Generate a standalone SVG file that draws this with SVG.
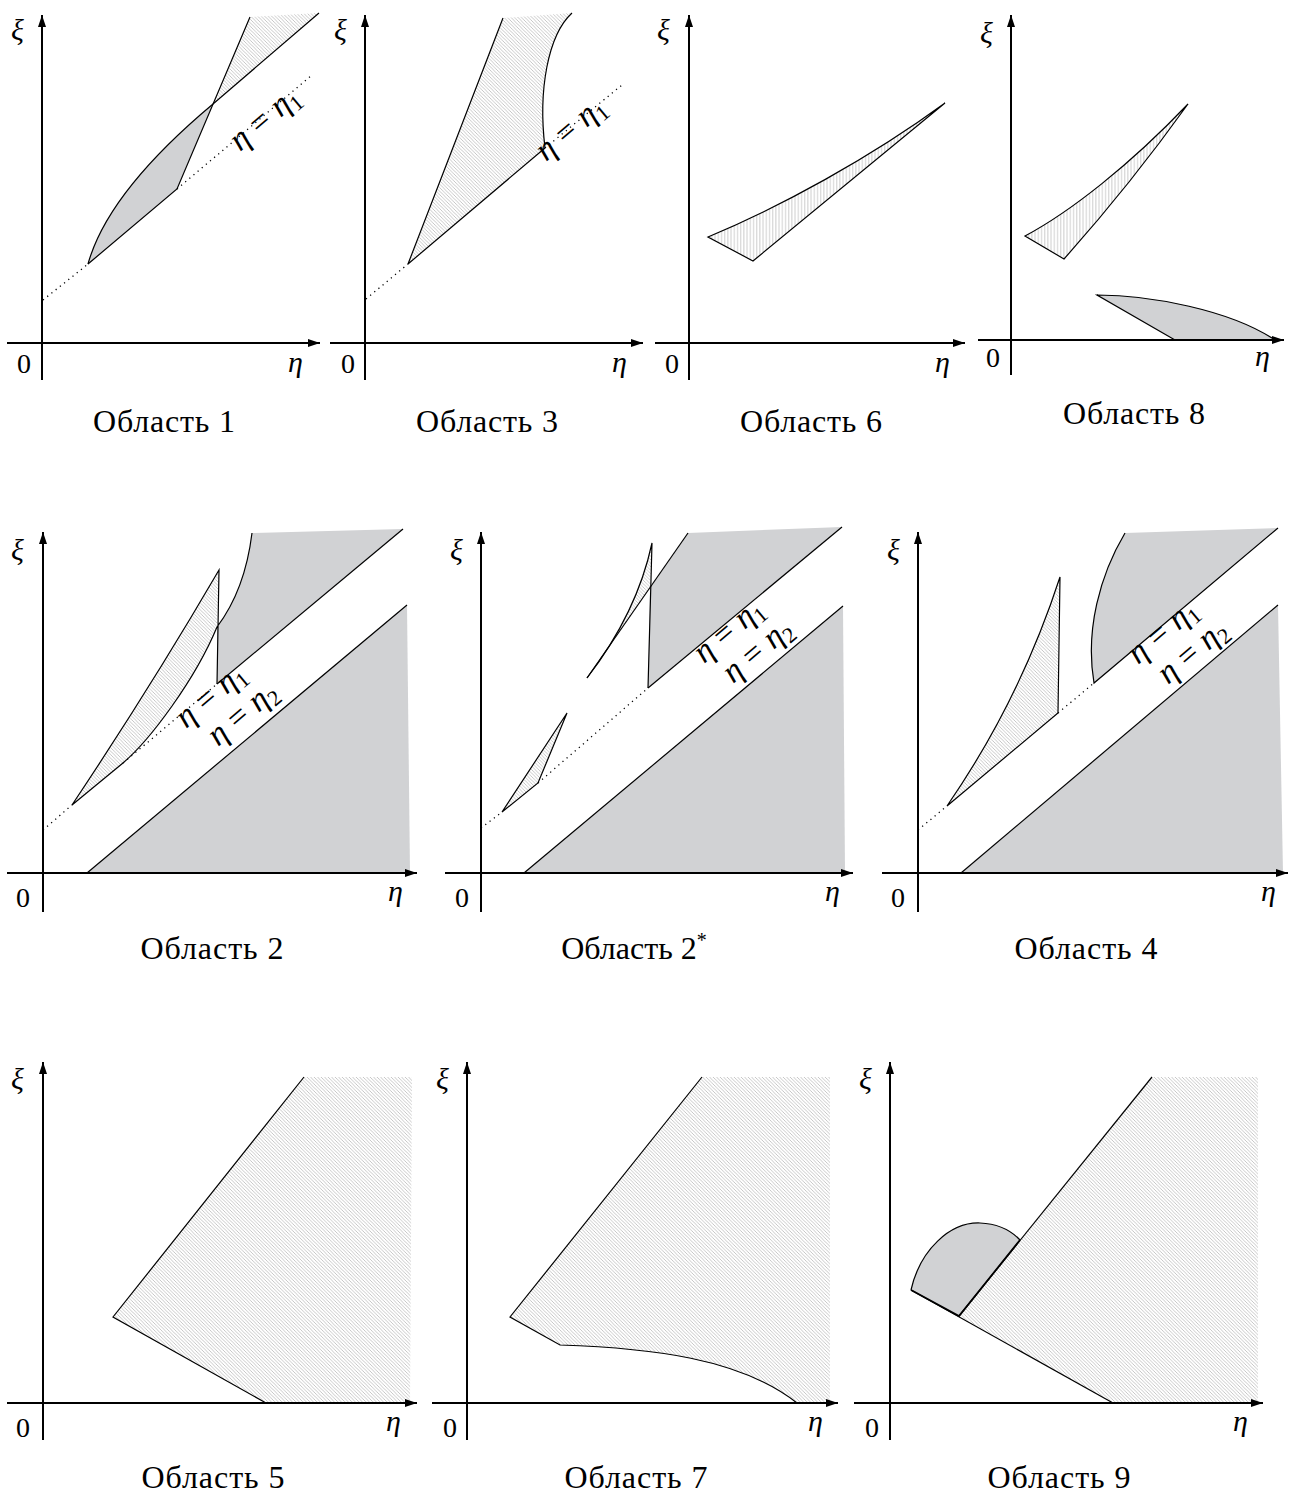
<svg xmlns="http://www.w3.org/2000/svg" width="1296" height="1493" viewBox="0 0 1296 1493">
<defs>
<pattern id="hd" patternUnits="userSpaceOnUse" width="3.5" height="3.5">
<path d="M-1,-1 L4.5,4.5 M-1,2.5 L1,4.5 M2.5,-1 L4.5,1" stroke="#9a9a9a" stroke-width="0.55"/>
</pattern>
<pattern id="hv" patternUnits="userSpaceOnUse" width="3.2" height="4">
<path d="M1.5,0 L1.5,4" stroke="#9a9a9a" stroke-width="0.55"/>
</pattern>
<marker id="ar" markerUnits="userSpaceOnUse" markerWidth="13" markerHeight="9" refX="12" refY="4.5" orient="auto">
<path d="M0,0.5 L12,4.5 L0,8.5 Z" fill="#000"/>
</marker>
</defs>
<style>
.ax{stroke:#000;stroke-width:2;fill:none;marker-end:url(#ar)}
.ln{stroke:#000;stroke-width:1.2;fill:none}
.dt{stroke:#000;stroke-width:1.3;fill:none;stroke-dasharray:1.2 4.2}
.gr{fill:#d1d2d4;stroke:none}
.hd{fill:url(#hd);stroke:none}
.hv{fill:url(#hv);stroke:none}
text{font-family:'Liberation Serif','DejaVu Serif','Times New Roman',serif;fill:#000}
.m{font-style:italic;font-size:30px}
.n{font-size:28px}
.cap{font-size:32px;text-anchor:middle}
.lb{font-style:italic;font-size:33px}
.sb{font-style:normal;font-size:22px}
.eq{font-style:normal}
</style>
<rect width="1296" height="1493" fill="#fff"/>

<!-- Panel 1 -->
<g id="panel1">
<polygon class="hd" points="250,17 319,13 213,104"/>
<path class="gr" d="M88,264 Q108,192 213,104 L177,189 Z"/>
<path class="ln" d="M88,264 Q108,192 213,104 L319,13"/>
<path class="ln" d="M88,264 L177,189 L250,17"/>
<path class="dt" d="M43,300 L88,264 M177,189 L312,75"/>
<text class="lb" transform="translate(240,152) rotate(-40)">η<tspan class="eq" dx="9">=</tspan><tspan dx="9">η</tspan><tspan class="sb" dy="6">1</tspan></text>
<line class="ax" x1="7" y1="343" x2="320" y2="343"/>
<line class="ax" x1="42" y1="380" x2="42" y2="15"/>
<text class="m" x="11" y="40">ξ</text>
<text class="n" x="17" y="373">0</text>
<text class="m" x="288" y="372">η</text>
<text class="cap" x="164" y="432" textLength="142">Область 1</text>
</g>

<!-- Panel 3 -->
<g id="panel3">
<path class="hd" d="M408,264 L503,18 L572,13 C548,35 538,90 545,148 Z"/>
<path class="ln" d="M545,148 L408,264 L503,18"/>
<path class="ln" d="M572,13 C548,35 538,90 545,148"/>
<path class="dt" d="M366,299 L408,264 M545,148 L622,85"/>
<text class="lb" transform="translate(546,162) rotate(-40)">η<tspan class="eq" dx="9">=</tspan><tspan dx="9">η</tspan><tspan class="sb" dy="6">1</tspan></text>
<line class="ax" x1="330" y1="343" x2="643" y2="343"/>
<line class="ax" x1="365" y1="380" x2="365" y2="15"/>
<text class="m" x="334" y="40">ξ</text>
<text class="n" x="341" y="373">0</text>
<text class="m" x="612" y="372">η</text>
<text class="cap" x="487" y="432" textLength="142">Область 3</text>
</g>

<!-- Panel 6 -->
<g id="panel6">
<path class="hv" d="M708,237 C780,207 870,158 945,103 L753,261 Z"/>
<path class="ln" d="M708,237 C780,207 870,158 945,103 L753,261 Z"/>
<line class="ax" x1="655" y1="343" x2="965" y2="343"/>
<line class="ax" x1="689" y1="380" x2="689" y2="15"/>
<text class="m" x="657" y="40">ξ</text>
<text class="n" x="665" y="373">0</text>
<text class="m" x="935" y="372">η</text>
<text class="cap" x="811" y="432" textLength="142">Область 6</text>
</g>

<!-- Panel 8 -->
<g id="panel8">
<path class="hv" d="M1025,236 C1070,212 1130,165 1188,104 Q1130,185 1064,259 Z"/>
<path class="ln" d="M1025,236 C1070,212 1130,165 1188,104 Q1130,185 1064,259 Z"/>
<path class="gr" d="M1097,295 C1150,295 1230,310 1275,340 L1175,340 Z"/>
<path class="ln" d="M1175,340 L1097,295 C1150,295 1230,310 1275,340"/>
<line class="ax" x1="978" y1="340" x2="1284" y2="340"/>
<line class="ax" x1="1011" y1="375" x2="1011" y2="15"/>
<text class="m" x="980" y="43">ξ</text>
<text class="n" x="986" y="367">0</text>
<text class="m" x="1255" y="366">η</text>
<text class="cap" x="1134" y="424" textLength="142">Область 8</text>
</g>

<!-- Panel 2 -->
<g id="panel2">
<polygon class="gr" points="87,873 407,605 410,873"/>
<path class="gr" d="M217,684 L217,627 Q245,590 252,533 L403,529 Z"/>
<path class="hd" d="M72,805 L123,763 C150,740 195,680 217,627 L219,570 Q152,685 72,805 Z"/>
<path class="ln" d="M87,873 L407,605"/>
<path class="ln" d="M217,684 L403,529"/>
<path class="ln" d="M217,684 L219,570 Q152,685 72,805 L123,763 C150,740 195,680 217,627 Q245,590 252,533"/>
<path class="dt" d="M43,830 L72,805 M123,763 L217,684"/>
<text class="lb" transform="translate(186,729) rotate(-40)">η<tspan class="eq" dx="9">=</tspan><tspan dx="9">η</tspan><tspan class="sb" dy="6">1</tspan></text>
<text class="lb" transform="translate(218,747) rotate(-40)">η<tspan class="eq" dx="9">=</tspan><tspan dx="9">η</tspan><tspan class="sb" dy="6">2</tspan></text>
<line class="ax" x1="7" y1="873" x2="417" y2="873"/>
<line class="ax" x1="43" y1="912" x2="43" y2="532"/>
<text class="m" x="11" y="560">ξ</text>
<text class="n" x="16" y="907">0</text>
<text class="m" x="388" y="901">η</text>
<text class="cap" x="212" y="959" textLength="143">Область 2</text>
</g>

<!-- Panel 2* -->
<g id="panel2s">
<polygon class="gr" points="524,873 843,606 845,873"/>
<polygon class="gr" points="648,688 650,588 688,533 842,527"/>
<path class="hd" d="M587,678 Q637,613 652,543 L650,588 Z"/>
<polygon class="hd" points="502,812 538,783 567,713"/>
<path class="ln" d="M524,873 L843,606"/>
<path class="ln" d="M648,688 L842,527"/>
<path class="ln" d="M587,678 L688,533"/>
<path class="ln" d="M587,678 Q637,613 652,543 L648,688"/>
<polygon class="ln" points="502,812 538,783 567,713"/>
<path class="dt" d="M481,828 L502,812 M538,783 L648,688"/>
<text class="lb" transform="translate(704,664) rotate(-40)">η<tspan class="eq" dx="9">=</tspan><tspan dx="9">η</tspan><tspan class="sb" dy="6">1</tspan></text>
<text class="lb" transform="translate(733,684) rotate(-40)">η<tspan class="eq" dx="9">=</tspan><tspan dx="9">η</tspan><tspan class="sb" dy="6">2</tspan></text>
<line class="ax" x1="445" y1="873" x2="853" y2="873"/>
<line class="ax" x1="481" y1="912" x2="481" y2="532"/>
<text class="m" x="450" y="560">ξ</text>
<text class="n" x="455" y="907">0</text>
<text class="m" x="825" y="901">η</text>
<text class="cap" x="634" y="959">Область 2<tspan font-size="20" dy="-12">*</tspan></text>
</g>

<!-- Panel 4 -->
<g id="panel4">
<polygon class="gr" points="961,873 1278,605 1283,873"/>
<path class="gr" d="M1094,683 C1085,630 1100,575 1125,533 L1278,528 Z"/>
<path class="hd" d="M947,806 Q1020,700 1060,577 L1058,713 Z"/>
<path class="ln" d="M961,873 L1278,605"/>
<path class="ln" d="M1278,528 L1094,683 C1085,630 1100,575 1125,533"/>
<path class="ln" d="M947,806 Q1020,700 1060,577 L1058,713 Z"/>
<path class="dt" d="M918,830 L947,806 M1058,713 L1094,683"/>
<text class="lb" transform="translate(1138,665) rotate(-40)">η<tspan class="eq" dx="9">=</tspan><tspan dx="9">η</tspan><tspan class="sb" dy="6">1</tspan></text>
<text class="lb" transform="translate(1168,685) rotate(-40)">η<tspan class="eq" dx="9">=</tspan><tspan dx="9">η</tspan><tspan class="sb" dy="6">2</tspan></text>
<line class="ax" x1="882" y1="873" x2="1288" y2="873"/>
<line class="ax" x1="918" y1="912" x2="918" y2="532"/>
<text class="m" x="887" y="560">ξ</text>
<text class="n" x="891" y="907">0</text>
<text class="m" x="1261" y="901">η</text>
<text class="cap" x="1086" y="959" textLength="143">Область 4</text>
</g>

<!-- Panel 5 -->
<g id="panel5">
<polygon class="hd" points="113,1317 304,1077 412,1077 410,1403 266,1403"/>
<path class="ln" d="M266,1403 L113,1317 L304,1077"/>
<line class="ax" x1="7" y1="1403" x2="417" y2="1403"/>
<line class="ax" x1="43" y1="1440" x2="43" y2="1062"/>
<text class="m" x="11" y="1089">ξ</text>
<text class="n" x="16" y="1437">0</text>
<text class="m" x="386" y="1431">η</text>
<text class="cap" x="213" y="1488" textLength="143">Область 5</text>
</g>

<!-- Panel 7 -->
<g id="panel7">
<path class="hd" d="M510,1317 L702,1077 L830,1077 L830,1403 L797,1403 C740,1358 650,1348 560,1345 Z"/>
<path class="ln" d="M702,1077 L510,1317 L560,1345 C650,1348 740,1358 797,1403"/>
<line class="ax" x1="432" y1="1403" x2="838" y2="1403"/>
<line class="ax" x1="467" y1="1440" x2="467" y2="1062"/>
<text class="m" x="436" y="1089">ξ</text>
<text class="n" x="443" y="1437">0</text>
<text class="m" x="808" y="1431">η</text>
<text class="cap" x="636" y="1488" textLength="143">Область 7</text>
</g>

<!-- Panel 9 -->
<g id="panel9">
<polygon class="hd" points="959,1316 1152,1077 1258,1077 1258,1403 1113,1403"/>
<path class="gr" d="M911,1290 C920,1250 950,1222 980,1223 Q1005,1224 1020,1240 L959,1316 Z"/>
<path class="ln" d="M911,1290 C920,1250 950,1222 980,1223 Q1005,1224 1020,1240"/>
<path class="ln" d="M911,1290 L1113,1403"/>
<path class="ln" d="M959,1316 L1152,1077"/>
<path class="ln" style="stroke-width:1.8" d="M911,1290 L959,1316 L1020,1240"/>
<line class="ax" x1="854" y1="1403" x2="1263" y2="1403"/>
<line class="ax" x1="890" y1="1440" x2="890" y2="1062"/>
<text class="m" x="859" y="1089">ξ</text>
<text class="n" x="865" y="1437">0</text>
<text class="m" x="1233" y="1431">η</text>
<text class="cap" x="1059" y="1488" textLength="143">Область 9</text>
</g>
</svg>
